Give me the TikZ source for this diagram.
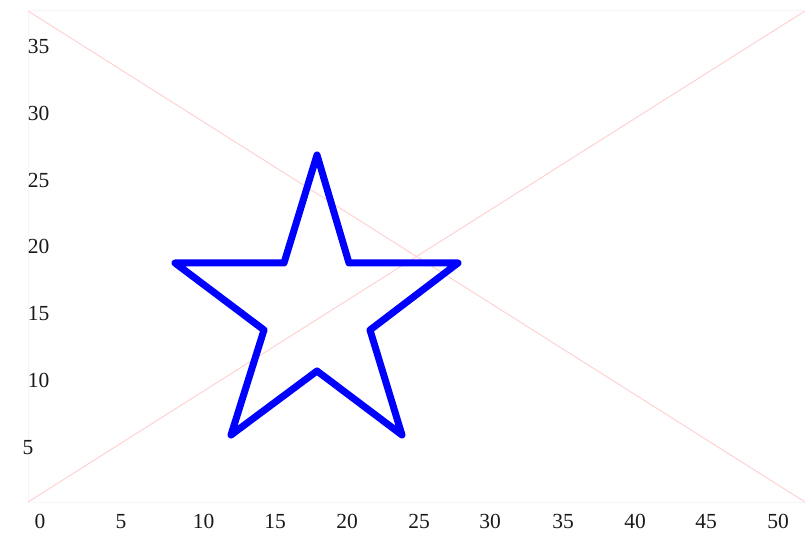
\documentclass[tikz,border=0pt]{standalone}
\usepackage{fontspec}
\setmainfont{Liberation Serif}
\usetikzlibrary{positioning}

\begin{document}
\begin{tikzpicture}[x=1pt, y=-1pt,
frameline/.style={draw=gray!8, line width=1pt},
diagline/.style={draw=red!18, line width=1pt},
starline/.style={draw=blue, line width=7pt, line join=round, line cap=round},
ticklabel/.style={font=\fontsize{21.5}{24}\selectfont, text=black!90, inner sep=0pt, anchor=base}
]
\useasboundingbox (0,0) rectangle (805,534);

\coordinate (nw) at (28,11);
\coordinate (ne) at (805,11);
\coordinate (sw) at (28,502);
\coordinate (se) at (805,502);

\draw[frameline] (nw) -- (ne) -- (se) -- (sw) -- cycle;
\draw[diagline] (nw) -- (se);
\draw[diagline] (sw) -- (ne);

% star
\draw[starline] (317,155) -- (349,263) -- (458,263) -- (370,330) -- (402,435)
  -- (317,371) -- (231,435) -- (264,330) -- (175,263) -- (284,263) -- cycle;

% axis labels
\foreach \val/\px in {0/40, 5/121, 10/203.5, 15/275, 20/347, 25/419, 30/490, 35/563, 40/635, 45/706, 50/778}
  \node[ticklabel] (x\val) at (\px,528.5) {\val};
\foreach \val/\px/\py in {35/38.5/54, 30/38.5/120.5, 25/38.5/187.5, 20/38.5/253.5, 15/38.5/320.5, 10/38.5/387.5, 5/28/454}
  \node[ticklabel] (y\val) at (\px,\py) {\val};
\end{tikzpicture}
\end{document}
